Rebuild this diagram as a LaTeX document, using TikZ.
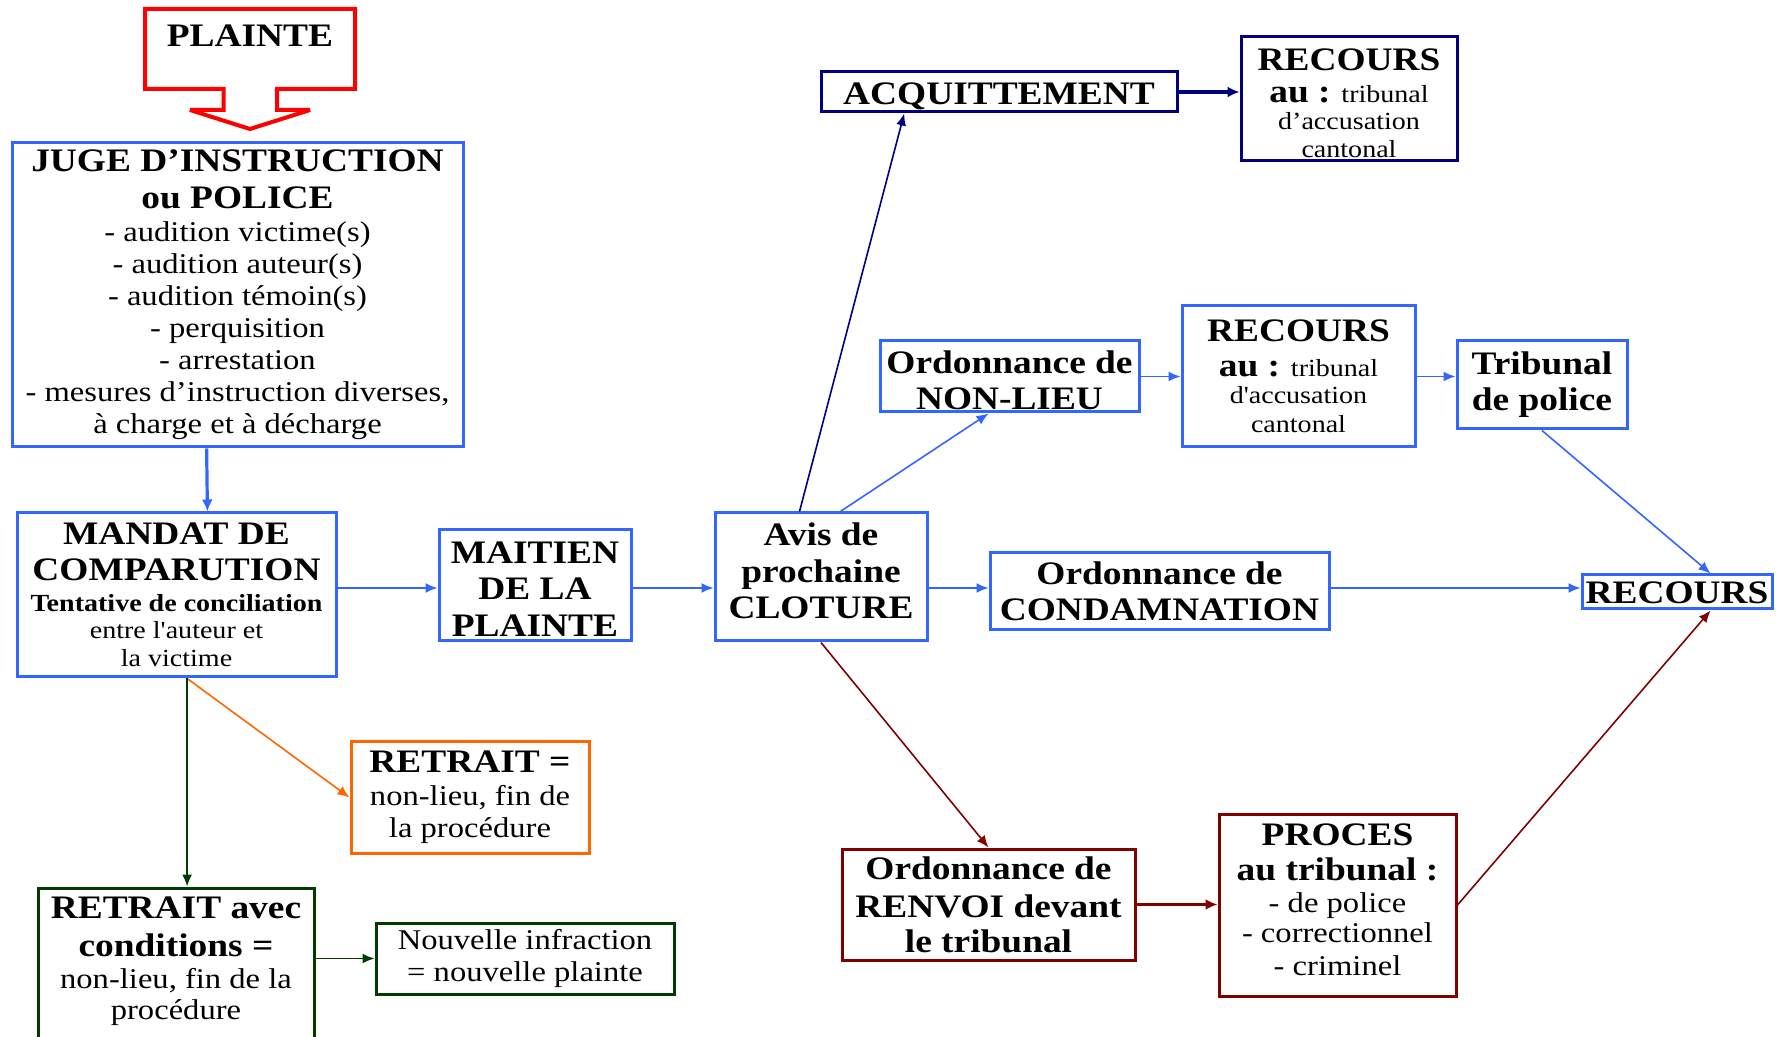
\documentclass[tikz,border=0pt]{standalone}
\usepackage{fontspec}
\setmainfont{Liberation Serif}[FakeStretch=1.14,Ligatures=TeXOff]
\usetikzlibrary{arrows.meta,calc}
\definecolor{mblue}{RGB}{51,102,255}
\definecolor{navy}{RGB}{0,0,128}
\definecolor{dred}{RGB}{128,0,0}
\definecolor{orng}{RGB}{255,102,0}
\definecolor{dgreen}{RGB}{0,60,0}
\definecolor{pred}{RGB}{255,0,0}
\newcommand\fbig{\fontsize{16.4pt}{18.25pt}\selectfont\bfseries}
\newcommand\freg{\fontsize{14.3pt}{16pt}\selectfont}
\newcommand\fsml{\fontsize{12.3pt}{13.75pt}\selectfont}
\newcommand\tup[1]{\rule{0pt}{#1}}
\newcommand\tdn[1]{\rule[-#1]{0pt}{0pt}}
\begin{document}
\begin{tikzpicture}[x=0.5pt,y=-0.5pt,
  box/.style={draw,line width=1.5pt,inner sep=0pt,align=center,font=\freg,text=black},
  bbox/.style={box,draw=mblue},
  nbox/.style={box,draw=navy},
  rbox/.style={box,draw=dred},
  obox/.style={box,draw=orng},
  gbox/.style={box,draw=dgreen},
  arr/.style={-{Latex[length=6pt,width=5pt]},line width=0.8pt},
  arrb/.style={-{Latex[length=6pt,width=5.5pt]},line width=1.6pt}]
\useasboundingbox (0,0) rectangle (1785,1037);
\clip (0,0) rectangle (1785,1037);

% PLAINTE callout arrow
\draw[pred,line width=2pt,miter limit=1.5] (145,9) -- (355,9) -- (355,89) -- (277,89) -- (277,110) -- (310,110)
  -- (250,129) -- (190,110) -- (223.5,110) -- (223.5,89) -- (145,89) -- cycle;
\node[font=\fbig,inner sep=0pt] (plainte) at (250,36) {PLAINTE};

% left column
\node[bbox,minimum width=225.5pt,minimum height=152pt] (juge) at (237.5,295)
 {{\fbig JUGE D’INSTRUCTION}\\[2.5pt]{\fbig ou POLICE}\\[0.5pt]
  - audition victime(s)\\- audition auteur(s)\\- audition témoin(s)\\
  - perquisition\\- arrestation\\- mesures d’instruction diverses,\\à charge et à décharge};

\node[bbox,minimum width=159.5pt,minimum height=82pt] (mandat) at (176.5,595)
 {{\fbig MANDAT DE}\\[2pt]{\fbig COMPARUTION}\\[-0.5pt]
  {\fsml\bfseries Tentative de conciliation}\\[-2.5pt]{\fsml entre l'auteur et}\\[-2pt]{\fsml la victime}};

\node[bbox,minimum width=96pt,minimum height=55.5pt] (maintien) at (535,585.5)
 {{\fbig\tup{14.4pt}MAITIEN}\\[2.25pt]{\fbig DE LA}\\[2.25pt]{\fbig PLAINTE}};

\node[obox,minimum width=119pt,minimum height=55.5pt] (retrait) at (470,797.5)
 {{\fbig RETRAIT =}\\[0.5pt]non-lieu, fin de\\la procédure};

\node[gbox,minimum width=138pt,minimum height=78.5pt] (retavec) at (176,966.5)
 {{\fbig RETRAIT avec}\\[3pt]{\fbig conditions =}\\non-lieu, fin de la\\[-0.5pt]procédure\tdn{8pt}};

\node[gbox,minimum width=149pt,minimum height=35.5pt] (nouvelle) at (525,958.5)
 {Nouvelle infraction\\= nouvelle plainte};

% middle / right
\node[bbox,minimum width=106pt,minimum height=64pt] (avis) at (821,577)
 {{\fbig Avis de}\\[2.25pt]{\fbig prochaine}\\[2.25pt]{\fbig CLOTURE}\tdn{6.3pt}};

\node[bbox,minimum width=169.5pt,minimum height=38.5pt] (condamn) at (1159.5,591.5)
 {{\fbig Ordonnance de}\\[2pt]{\fbig CONDAMNATION}};

\node[bbox,minimum width=95pt,minimum height=17pt] (recours) at (1677,592)
 {{\fbig\tup{12pt}RECOURS}};

\node[nbox,minimum width=178pt,minimum height=20pt] (acquit) at (999,92)
 {{\fbig\tup{15.5pt}ACQUITTEMENT}};

\node[nbox,minimum width=108pt,minimum height=62pt] (rectop) at (1349,99)
 {{\fbig\tup{15pt}RECOURS}\\[-0.2pt]{\fbig au :} {\fsml tribunal}\\[-2.5pt]{\fsml d’accusation}\\[-2pt]{\fsml cantonal}};

\node[bbox,minimum width=129.5pt,minimum height=35.5pt] (nonlieu) at (1009.5,376.5)
 {{\fbig\tup{15pt}Ordonnance de}\\[2pt]{\fbig NON-LIEU}};

\node[bbox,minimum width=116.5pt,minimum height=70.5pt] (recmid) at (1298.5,376.5)
 {{\fbig RECOURS}\\[1.5pt]{\fbig au :} {\fsml tribunal}\\[-2.5pt]{\fsml d'accusation}\\[-1.5pt]{\fsml cantonal}};

\node[bbox,minimum width=85pt,minimum height=44pt] (tribpol) at (1542,385)
 {{\fbig Tribunal}\\[2pt]{\fbig de police}};

\node[rbox,minimum width=146.5pt,minimum height=55.5pt] (renvoi) at (988.5,904.5)
 {{\fbig Ordonnance de}\\[3pt]{\fbig RENVOI devant}\\[1.5pt]{\fbig le tribunal}};

\node[rbox,minimum width=118.5pt,minimum height=91pt] (proces) at (1337.5,905)
 {{\fbig PROCES}\\[1.5pt]{\fbig au tribunal :}\\[0pt]- de police\\[-1pt]- correctionnel\\[0.5pt]- criminel\tdn{5pt}};

% connectors
\draw[arrb,mblue] ($(juge.south west)!0.432!(juge.south east)$) -- ($(mandat.north west)!0.596!(mandat.north east)$);
\coordinate (row) at (0,588);
\draw[arr,mblue] (mandat.east |- row) -- (maintien.west |- row);
\draw[arr,mblue] (maintien.east |- row) -- (avis.west |- row);
\draw[arr,mblue] (avis.east |- row) -- (condamn.west |- row);
\draw[arr,mblue] (condamn.east |- row) -- (recours.west |- row);
\draw[arr,navy] ($(avis.north west)!0.40!(avis.north east)$) -- ($(acquit.south west)!0.236!(acquit.south east)$);
\draw[arr,mblue] ($(avis.north west)!0.59!(avis.north east)$) -- ($(nonlieu.south west)!0.42!(nonlieu.south east)$);
\draw[arr,mblue] (nonlieu.east) -- (recmid.west |- nonlieu.east);
\draw[arr,mblue] (recmid.east) -- (tribpol.west |- recmid.east);
\draw[arr,mblue] (tribpol.south) -- ($(recours.north west)!0.674!(recours.north east)$);
\draw[arrb,navy] (acquit.east) -- (rectop.west |- acquit.east);
\draw[arr,dred] (avis.south) -- (renvoi.north);
\draw[arrb,dred] (renvoi.east) -- (proces.west |- renvoi.east);
\draw[arr,dred] (proces.east) -- ($(recours.south west)!0.674!(recours.south east)$);
\coordinate (ms) at ($(mandat.south west)!0.533!(mandat.south east)$);
\draw[arr,orng] (ms) -- (retrait.west);
\draw[arr,dgreen] (ms) -- (ms |- retavec.north);
\draw[arr,dgreen] (retavec.east |- nouvelle.west) -- (nouvelle.west);
\end{tikzpicture}
\end{document}
